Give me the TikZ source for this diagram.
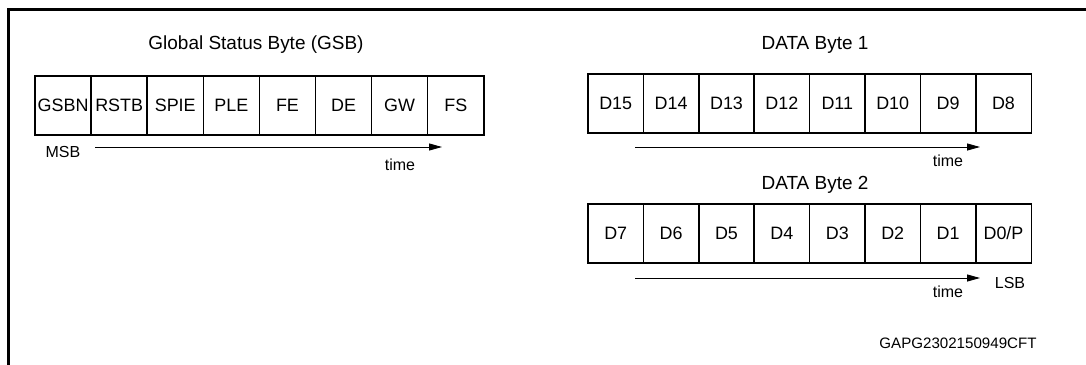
\documentclass[tikz,border=0pt]{standalone}
\usepackage{fontspec}
\setmainfont{Liberation Sans}
\usetikzlibrary{arrows.meta,positioning}

\tikzset{
  bitcell/.style={draw, line width=0.8pt, minimum height=1.18cm, inner sep=0pt,
    outer sep=0pt, font=\fontsize{10.2}{12}\selectfont},
  bytetitle/.style={font=\fontsize{10.8}{13}\selectfont},
  smalllabel/.style={font=\fontsize{9.1}{11}\selectfont},
  timearrow/.style={line width=0.5pt, -{Triangle[length=7.4pt,width=4pt]}},
  frameline/.style={line width=1.4pt}
}

\begin{document}
\begin{tikzpicture}[x=0.02cm,y=-0.02cm]
    \useasboundingbox (0,0) rectangle (1086,365);

    % Frame (left and top edge only)
    \draw[frameline] (8.5,365) -- (8.5,9.5) -- (1086,9.5);

    % Global status byte
    \node[bytetitle] (gsbtitle) at (256,45) {Global Status Byte (GSB)};
    \foreach \lab [count=\i] in {GSBN,RSTB,SPIE,PLE,FE,DE,GW,FS} {
        \node[bitcell, minimum width=1.122cm] (g\i) at ({35+56.1*(\i-0.5)},105.5) {\lab};
    }
    \node[smalllabel] (msb) at (63,152) {MSB};
    \node[smalllabel] (gtime) at (400,165) {time};
    \coordinate (gstart) at (95,147);
    \coordinate (gend) at (442,147);
    \draw[timearrow] (gstart) -- (gend);

    % Data byte 1
    \node[bytetitle] (d1title) at (815,45) {DATA Byte 1};
    \foreach \lab [count=\i] in {D15,D14,D13,D12,D11,D10,D9,D8} {
        \node[bitcell, minimum width=1.108cm] (a\i) at ({588+55.4*(\i-0.5)},103.5) {\lab};
    }
    \node[smalllabel] (atime) at (948,161) {time};
    \coordinate (astart) at (635,147);
    \coordinate (aend) at (980,147);
    \draw[timearrow] (astart) -- (aend);

    % Data byte 2
    \node[bytetitle] (d2title) at (815,185) {DATA Byte 2};
    \foreach \lab [count=\i] in {D7,D6,D5,D4,D3,D2,D1,D0/P} {
        \node[bitcell, minimum width=1.108cm] (b\i) at ({588+55.4*(\i-0.5)},233.5) {\lab};
    }
    \node[smalllabel] (btime) at (948,292) {time};
    \node[smalllabel] (lsb) at (1010,283) {LSB};
    \coordinate (bstart) at (635,278);
    \coordinate (bend) at (980,278);
    \draw[timearrow] (bstart) -- (bend);

    \node[font=\fontsize{8.6}{10}\selectfont] (figcode) at (958,343) {GAPG2302150949CFT};
\end{tikzpicture}
\end{document}
